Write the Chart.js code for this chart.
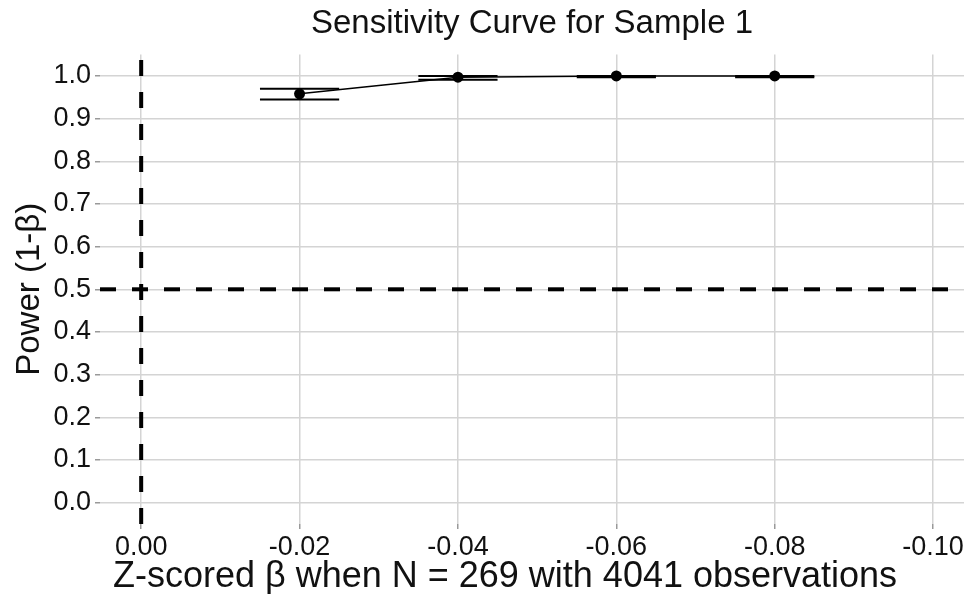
<!DOCTYPE html>
<html>
<head>
<meta charset="utf-8">
<title>Sensitivity Curve</title>
<script src="https://cdn.jsdelivr.net/npm/chart.js@4.4.0/dist/chart.umd.min.js"></script>
<style>
    html, body { margin: 0; padding: 0; background: #fff; }
    #wrap { width: 964px; height: 594px; }
</style>
</head>
<body>
<div id="wrap"><canvas id="sensChart" width="964" height="594"></canvas></div>
<script>
// Dados
const betas = [-0.02, -0.04, -0.06, -0.08];
const power = [0.958, 0.997, 1.0, 1.0];
const powerLo = [0.945, 0.991, 0.997, 0.997];
const powerHi = [0.970, 1.0, 1.0, 1.0];
const capHalf = 0.005;

const xTicks = [0.00, -0.02, -0.04, -0.06, -0.08, -0.10];
const yTicks = [0.0, 0.1, 0.2, 0.3, 0.4, 0.5, 0.6, 0.7, 0.8, 0.9, 1.0];
const xMin = -0.1039, xMax = 0.0052;
const yMin = -0.05, yMax = 1.05;
const refX = 0, refY = 0.5;

const xTitle = 'Z-scored β when N = 269 with 4041 observations';
const fontFam = '"Liberation Sans", Arial, Helvetica, sans-serif';

// Linha principal com pontos
const datasets = [{
    data: betas.map((b, i) => ({ x: b, y: power[i] })),
    borderColor: '#000',
    backgroundColor: '#000',
    borderWidth: 1.5,
    pointRadius: 5.5,
    pointBorderWidth: 0,
    order: 0
}];

// Barras de erro (apenas as tampas horizontais)
betas.forEach((b, i) => {
    [powerLo[i], powerHi[i]].forEach(v => {
        datasets.push({
            data: [{ x: b - capHalf, y: v }, { x: b + capHalf, y: v }],
            borderColor: '#000',
            borderWidth: 2,
            pointRadius: 0,
            order: 1
        });
    });
});

// Linhas de referência tracejadas
datasets.push({
    data: [{ x: refX, y: yMin }, { x: refX, y: yMax }],
    borderColor: '#000', borderWidth: 4, borderDash: [16, 16],
    pointRadius: 0, order: 2
});
datasets.push({
    data: [{ x: xMax, y: refY }, { x: xMin, y: refY }],
    borderColor: '#000', borderWidth: 4, borderDash: [16, 16],
    pointRadius: 0, order: 2
});

// Título do eixo x (desenhado à mão para acertar a posição)
const xTitlePlugin = {
    id: 'xTitle',
    afterDraw(chart) {
        const c = chart.ctx;
        c.save();
        c.font = '36px ' + fontFam;
        c.fillStyle = '#111';
        c.textAlign = 'center';
        c.textBaseline = 'middle';
        c.fillText(xTitle, chart.chartArea.left + 405, chart.height - 17);
        c.restore();
    }
};

const ctx = document.getElementById('sensChart').getContext('2d');
const sensChart = new Chart(ctx, {
    type: 'line',
    data: { datasets: datasets },
    plugins: [xTitlePlugin],
    options: {
        responsive: false,
        animation: false,
        layout: { autoPadding: false, padding: 0 },
        plugins: {
            legend: { display: false },
            tooltip: { enabled: false },
            title: {
                display: true,
                fullSize: false,
                text: 'Sensitivity Curve for Sample 1',
                color: '#111',
                font: { family: fontFam, size: 33, weight: 'normal', lineHeight: 1.2 },
                padding: { top: 4, bottom: 11 }
            }
        },
        scales: {
            x: {
                type: 'linear',
                reverse: true,
                min: xMin,
                max: xMax,
                afterBuildTicks: s => { s.ticks = xTicks.map(v => ({ value: v })); },
                afterFit: s => { s.height = 70; s.paddingLeft = 0; s.paddingRight = 0; },
                ticks: {
                    color: '#111',
                    font: { family: fontFam, size: 27 },
                    padding: 2,
                    maxRotation: 0,
                    callback: v => v.toFixed(2)
                },
                grid: { color: '#d4d4d4', lineWidth: 1.5, tickLength: 5, tickColor: '#999' },
                border: { display: false },
                title: { display: false }
            },
            y: {
                type: 'linear',
                min: yMin,
                max: yMax,
                afterBuildTicks: s => { s.ticks = yTicks.map(v => ({ value: v })); },
                afterFit: s => { s.width = 100; },
                ticks: {
                    color: '#111',
                    font: { family: fontFam, size: 27 },
                    padding: 4,
                    callback: v => v.toFixed(1)
                },
                grid: { color: '#d4d4d4', lineWidth: 1.5, tickLength: 5, tickColor: '#999' },
                border: { display: false },
                title: {
                    display: true,
                    text: 'Power (1-β)',
                    color: '#111',
                    font: { family: fontFam, size: 33, lineHeight: 1.2 },
                    padding: { top: 10, bottom: 0 }
                }
            }
        }
    }
});
</script>
</body>
</html>
